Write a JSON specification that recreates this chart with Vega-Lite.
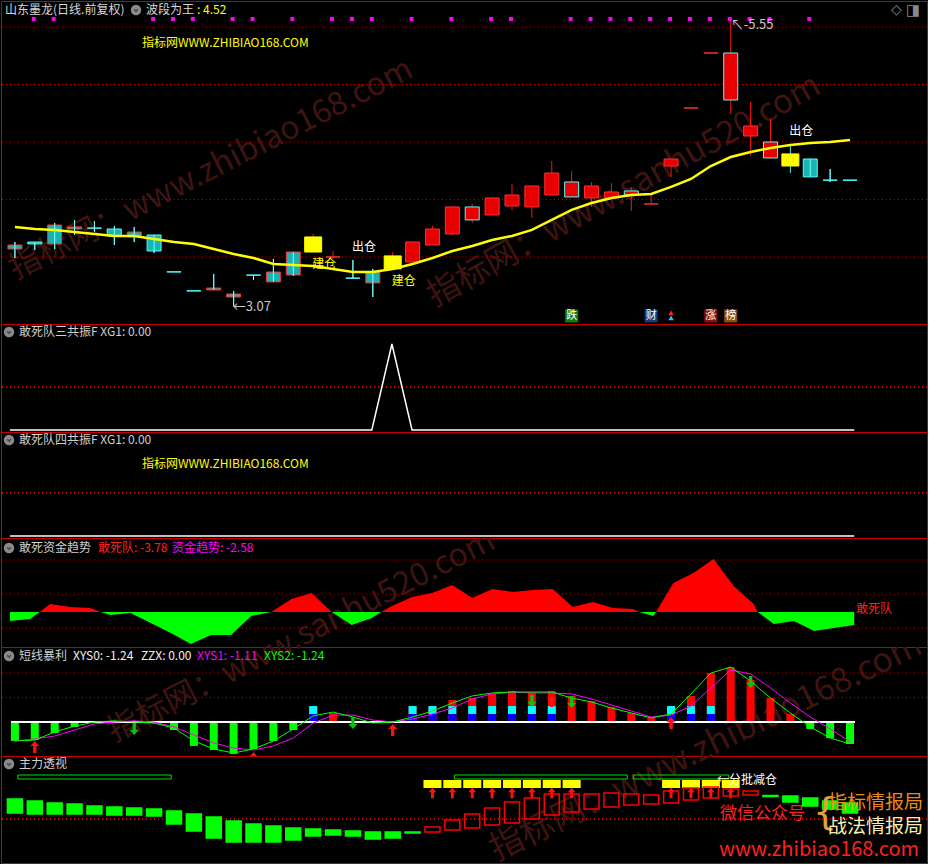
{
"$schema":"https://vega.github.io/schema/vega-lite/v6.json",
"background":"#000000",
"padding":0,
"spacing":0,
"bounds":"flush",
"config":{
 "view":{"stroke":"#c80000","strokeWidth":1},
 "concat":{"spacing":0},
 "axis":{"minExtent":0,"maxExtent":10,"labels":false,"domain":false,"grid":false,"tickColor":"#c00000","tickSize":4},
 "text":{"font":"Noto Sans CJK SC","fontSize":12,"align":"left","baseline":"middle"}
},
"datasets":{
"d":[
{"i":0,"o":3.604,"h":3.630,"l":3.491,"c":3.569,"ma":3.761,"k":1,"x3":0,"v":-1.07,"s1":-1.07,"s2":-1.07,"zo":2.0,"zc":0.6},
{"i":1,"o":3.630,"h":3.630,"l":3.561,"c":3.613,"ma":3.743,"m":1,"x3":0,"v":-1.02,"s1":-0.96,"s2":-1.02,"ar":"up","zo":1.8,"zc":0.5},
{"i":2,"o":3.778,"h":3.796,"l":3.569,"c":3.613,"ma":3.735,"k":1,"m":1,"x3":0,"v":-0.62,"s1":-0.79,"s2":-0.56,"zo":1.6,"zc":0.5},
{"i":3,"o":3.761,"h":3.822,"l":3.691,"c":3.743,"ma":3.717,"k":1,"x3":0,"v":-0.28,"s1":-0.45,"s2":-0.23,"zo":1.5,"zc":0.5},
{"i":4,"o":3.752,"h":3.813,"l":3.717,"c":3.750,"ma":3.700,"x3":0,"v":0.03,"s1":-0.11,"s2":0,"zo":1.3,"zc":0.5},
{"i":5,"o":3.743,"h":3.769,"l":3.604,"c":3.683,"ma":3.683,"x3":0,"v":0.03,"s1":0,"s2":0.06,"zo":1.2,"zc":0.4},
{"i":6,"o":3.717,"h":3.761,"l":3.630,"c":3.674,"ma":3.683,"k":1,"x3":0,"v":-0.06,"s1":0.06,"s2":0,"ar":"dn","zo":1.1,"zc":0.4},
{"i":7,"o":3.691,"h":3.691,"l":3.535,"c":3.552,"ma":3.656,"m":1,"x3":0,"v":-0.06,"s1":0,"s2":-0.06,"zo":1.0,"zc":0.3},
{"i":8,"o":3.371,"h":3.371,"l":3.369,"c":3.369,"ma":3.630,"m":1,"x3":0,"v":-0.45,"s1":-0.28,"s2":-0.34,"zo":0.8,"zc":-0.5},
{"i":9,"o":3.206,"h":3.206,"l":3.204,"c":3.204,"ma":3.613,"m":1,"x3":0,"v":-1.35,"s1":-0.73,"s2":-1.07,"zo":0.5,"zc":-1.2},
{"i":10,"o":3.230,"h":3.352,"l":3.213,"c":3.213,"ma":3.569,"k":1,"x3":0,"v":-1.58,"s1":-1.18,"s2":-1.52,"zo":0.2,"zc":-1.9},
{"i":11,"o":3.178,"h":3.204,"l":3.07,"c":3.152,"ma":3.526,"k":1,"m":1,"x3":0,"v":-1.80,"s1":-1.47,"s2":-1.75,"zo":-0.2,"zc":-2.3},
{"i":12,"o":3.343,"h":3.343,"l":3.300,"c":3.341,"ma":3.491,"m":1,"x3":0,"v":-1.52,"s1":-1.58,"s2":-1.52,"ar":"up","zo":-0.5,"zc":-2.3},
{"i":13,"o":3.369,"h":3.483,"l":3.283,"c":3.283,"ma":3.439,"k":1,"x3":0,"v":-1.07,"s1":-1.35,"s2":-1.07,"zo":-0.7,"zc":-2.3},
{"i":14,"o":3.543,"h":3.543,"l":3.335,"c":3.343,"ma":3.430,"k":1,"m":1,"x3":0,"v":-0.45,"s1":-0.90,"s2":-0.39,"zo":-0.9,"zc":-2.1},
{"i":15,"o":3.543,"h":3.700,"l":3.543,"c":3.674,"ma":3.422,"hl":1,"sig":"建仓","x3":0,"v":0.90,"cb":1,"s1":-0.06,"s2":0.34,"zo":-1.0,"zc":-1.7},
{"i":16,"o":3.500,"h":3.552,"l":3.483,"c":3.500,"ma":3.396,"m":1,"x3":0,"v":0.51,"s1":0.39,"s2":0.56,"zo":-1.1,"zc":-1.6},
{"i":17,"o":3.317,"h":3.474,"l":3.315,"c":3.315,"ma":3.369,"m":1,"sig":"出仓","x3":0,"v":-0.06,"s1":0.39,"s2":0.28,"ar":"dn","zo":-1.2,"zc":-1.7},
{"i":18,"o":3.369,"h":3.396,"l":3.152,"c":3.274,"ma":3.369,"k":1,"m":1,"x3":0,"v":0.03,"s1":0.11,"s2":-0.06,"zo":-1.3,"zc":-2.0},
{"i":19,"o":3.396,"h":3.543,"l":3.396,"c":3.509,"ma":3.396,"hl":1,"sig":"建仓","x3":1,"v":-0.03,"s1":0,"s2":0,"ar":"up","zo":-1.3,"zc":-1.9},
{"i":20,"o":3.456,"h":3.630,"l":3.456,"c":3.630,"ma":3.439,"m":1,"x3":0,"v":0.90,"cb":1,"s1":0.17,"s2":0.28,"zo":-1.3,"zc":-1.4},
{"i":21,"o":3.604,"h":3.769,"l":3.604,"c":3.743,"ma":3.491,"x3":0,"v":0.90,"cb":1,"s1":0.45,"s2":0.62,"zo":-1.3,"zc":-0.8,"buy":1},
{"i":22,"o":3.700,"h":3.935,"l":3.691,"c":3.935,"ma":3.552,"m":1,"x3":0,"v":1.24,"cb":1,"s1":0.79,"s2":1.07,"zo":-1.1,"zc":-0.1,"buy":1},
{"i":23,"o":3.822,"h":3.961,"l":3.796,"c":3.935,"ma":3.596,"k":1,"x3":0,"v":1.35,"cb":1,"s1":1.30,"s2":1.47,"zo":-0.9,"zc":0.5,"buy":1},
{"i":24,"o":3.865,"h":4.013,"l":3.865,"c":4.013,"ma":3.648,"m":1,"x3":0,"v":1.58,"cb":1,"s1":1.58,"s2":1.64,"zo":-0.6,"zc":1.1,"buy":1},
{"i":25,"o":3.943,"h":4.135,"l":3.909,"c":4.039,"ma":3.683,"m":1,"x3":0,"v":1.75,"cb":1,"s1":1.69,"s2":1.69,"zo":-0.4,"zc":1.7,"buy":1},
{"i":26,"o":3.935,"h":4.117,"l":3.839,"c":4.117,"ma":3.735,"x3":0,"v":1.64,"cb":1,"s1":1.64,"s2":1.69,"ar":"dn","zo":0.0,"zc":2.1,"buy":1},
{"i":27,"o":4.039,"h":4.335,"l":4.039,"c":4.230,"ma":3.822,"x3":0,"v":1.75,"cb":1,"s1":1.64,"s2":1.69,"ar":"up","zo":0.4,"zc":2.5,"buy":1},
{"i":28,"o":4.022,"h":4.248,"l":4.022,"c":4.152,"ma":3.909,"k":1,"m":1,"x3":0,"v":1.47,"s1":1.58,"s2":1.35,"ar":"dn","zo":0.7,"zc":2.5,"buy":1},
{"i":29,"o":4.013,"h":4.152,"l":3.935,"c":4.117,"ma":3.969,"m":1,"x3":0,"v":1.18,"s1":1.30,"s2":1.13,"zo":1.0,"zc":2.5},
{"i":30,"o":4.013,"h":4.143,"l":4.013,"c":4.065,"ma":4.013,"m":1,"x3":0,"v":0.85,"s1":0.96,"s2":0.79,"zo":1.2,"zc":2.6},
{"i":31,"o":4.039,"h":4.109,"l":3.900,"c":4.074,"ma":4.039,"k":1,"m":1,"x3":0,"v":0.51,"s1":0.62,"s2":0.51,"zo":1.4,"zc":2.5},
{"i":32,"o":3.961,"h":4.039,"l":3.961,"c":3.961,"ma":4.048,"m":1,"x3":0,"v":0.23,"s1":0.28,"s2":0.23,"zo":1.5,"zc":2.4},
{"i":33,"o":4.291,"h":4.352,"l":4.196,"c":4.352,"ma":4.109,"m":1,"x3":0,"v":0.90,"cb":1,"s1":0.39,"s2":0.45,"ar":"up","zo":1.6,"zc":2.8,"buy":1},
{"i":34,"o":4.796,"h":4.796,"l":4.796,"c":4.796,"ma":4.178,"m":1,"x3":0,"v":1.47,"cb":1,"s1":0.90,"s2":1.58,"zo":1.9,"zc":3.1,"buy":1},
{"i":35,"o":5.274,"h":5.274,"l":5.274,"c":5.274,"ma":4.291,"m":1,"x3":0,"v":2.76,"cb":1,"s1":1.92,"s2":2.76,"zo":2.1,"zc":3.2,"buy":1},
{"i":36,"o":4.865,"h":5.55,"l":4.743,"c":5.274,"ma":4.369,"k":1,"m":1,"x3":0,"v":3.10,"s1":2.93,"s2":3.10,"zo":2.3,"zc":3.0,"buy":1},
{"i":37,"o":4.552,"h":4.848,"l":4.378,"c":4.639,"ma":4.413,"m":1,"x3":0,"v":2.37,"s1":2.71,"s2":2.31,"ar":"dn","zo":2.4,"zc":2.8},
{"i":38,"o":4.361,"h":4.700,"l":4.352,"c":4.500,"ma":4.448,"k":1,"m":1,"x3":0,"v":1.35,"s1":1.92,"s2":1.35,"zo":2.35,"zc":2.25},
{"i":39,"o":4.396,"h":4.483,"l":4.230,"c":4.291,"ma":4.474,"hl":1,"sig":"出仓","x3":0,"v":0.45,"s1":1.07,"s2":0.51,"zo":2.3,"zc":1.7},
{"i":40,"o":4.352,"h":4.352,"l":4.196,"c":4.196,"ma":4.491,"m":1,"x3":0,"v":-0.39,"s1":0.28,"s2":-0.28,"zo":2.1,"zc":1.3},
{"i":41,"o":4.169,"h":4.265,"l":4.152,"c":4.167,"ma":4.500,"x3":0,"v":-0.90,"s1":-0.39,"s2":-0.90,"zo":1.8,"zc":1.0},
{"i":42,"o":4.169,"h":4.169,"l":4.167,"c":4.167,"ma":4.517,"x3":0,"v":-1.24,"s1":-1.11,"s2":-1.24,"zo":1.6,"zc":0.6}
],
"q":[{"i":0,"v":-2.61},{"i":1,"v":-2.03},{"i":1.47,"v":0},{"i":2,"v":2.32},{"i":3,"v":1.45},{"i":4,"v":1.16},{"i":4.5,"v":0},{"i":5,"v":-0.87},{"i":6,"v":-0.29},{"i":7,"v":-3.19},{"i":8,"v":-6.09},{"i":9,"v":-9.28},{"i":10,"v":-6.67},{"i":11,"v":-6.67},{"i":12,"v":-1.16},{"i":13,"v":0},{"i":14,"v":3.77},{"i":15,"v":5.51},{"i":16,"v":0},{"i":17,"v":-3.77},{"i":18,"v":-1.74},{"i":18.46,"v":0},{"i":19,"v":1.74},{"i":20,"v":4.35},{"i":21,"v":5.51},{"i":22,"v":7.83},{"i":23,"v":4.06},{"i":24,"v":6.67},{"i":25,"v":5.8},{"i":26,"v":6.38},{"i":27,"v":6.67},{"i":28,"v":1.45},{"i":29,"v":2.9},{"i":30,"v":1.16},{"i":31,"v":0.87},{"i":31.3,"v":0},{"i":32,"v":-1.16},{"i":32.14,"v":0},{"i":33,"v":8.41},{"i":34,"v":11.31},{"i":35,"v":15.37},{"i":36,"v":7.54},{"i":37,"v":2.32},{"i":37.2,"v":0},{"i":38,"v":-3.48},{"i":39,"v":-2.61},{"i":40,"v":-5.51},{"i":41,"v":-4.64},{"i":42,"v":-3.77}]
},
"vconcat":[
{
"width":926,"height":323,
"data":{"name":"d"},
"layer":[
 {"data":{"values":[{}]},"mark":{"type":"text","text":"指标网：www.zhibiao168.com","x":210,"y":168,"angle":333,"align":"center","fontSize":32,"color":"#3f1410","clip":true}},
 {"data":{"values":[{}]},"mark":{"type":"text","text":"指标网：www.sanhu520.com","x":623,"y":190,"angle":331,"align":"center","fontSize":33,"color":"#3f1410","clip":true}},
 {"data":{"values":[{"g":3.5},{"g":4},{"g":4.5},{"g":5},{"g":5.5}]},"mark":{"type":"rule","color":"#c00000","strokeDash":[1,3]},
  "encoding":{"y":{"field":"g","type":"quantitative","scale":{"domain":[2.917,5.726],"nice":false,"zero":false},"axis":{"orient":"right","values":[3.5,3.75,4,4.25,4.5,4.75,5,5.25,5.5],"labels":false,"ticks":true,"tickColor":"#c00000","tickSize":4,"domain":false,"grid":false,"title":null}}}},
 {"mark":{"type":"rule","strokeWidth":1},
  "encoding":{"x":{"field":"i","type":"quantitative","scale":{"domain":[-0.448,45.62],"nice":false,"zero":false},"axis":null},
   "y":{"field":"l","type":"quantitative","scale":{"domain":[2.917,5.726],"nice":false,"zero":false},"axis":null},"y2":{"field":"h"},
   "color":{"condition":{"test":"datum.c >= datum.o","value":"#ff1010"},"value":"#40f0f0"}}},
 {"mark":{"type":"bar","orient":"vertical","strokeWidth":1},
  "encoding":{"x":{"field":"i","type":"quantitative","scale":{"domain":[-0.448,45.62],"nice":false,"zero":false},"axis":null},
   "y":{"field":"o","type":"quantitative","scale":{"domain":[2.917,5.726],"nice":false,"zero":false},"axis":null},"y2":{"field":"c"},
   "size":{"condition":{"test":"datum.hl == 1","value":17},"value":14},
   "fill":{"condition":[{"test":"datum.hl == 1","value":"#ffff00"},{"test":"datum.c >= datum.o","value":"#e80000"}],"value":"#18b4b4"},
   "stroke":{"condition":[{"test":"datum.hl == 1","value":"#ffff00"},{"test":"datum.k == 1 && datum.c >= datum.o","value":"#50ffff"},{"test":"datum.c >= datum.o","value":"#ff3030"},{"test":"datum.k == 1","value":"#ff3030"}],"value":"#50ffff"}}},
 {"transform":[{"filter":"datum.hl != 1 && datum.c < datum.o"}],"mark":{"type":"rule","color":"#80ffff","strokeWidth":1},
  "encoding":{"x":{"field":"i","type":"quantitative","scale":{"domain":[-0.448,45.62],"nice":false,"zero":false},"axis":null},
   "y":{"field":"l","type":"quantitative","scale":{"domain":[2.917,5.726],"nice":false,"zero":false},"axis":null},"y2":{"field":"h"}}},
 {"mark":{"type":"line","color":"#ffff00","strokeWidth":2.5},
  "encoding":{"x":{"field":"i","type":"quantitative","scale":{"domain":[-0.448,45.62],"nice":false,"zero":false},"axis":null},
   "y":{"field":"ma","type":"quantitative","scale":{"domain":[2.917,5.726],"nice":false,"zero":false},"axis":null}}},
 {"transform":[{"filter":"datum.m == 1"}],"mark":{"type":"square","filled":true,"color":"#ff00ff","size":16,"opacity":1,"xOffset":-1},
  "encoding":{"x":{"field":"i","type":"quantitative","scale":{"domain":[-0.448,45.62],"nice":false,"zero":false},"axis":null},
   "y":{"datum":5.57,"type":"quantitative","scale":{"domain":[2.917,5.726],"nice":false,"zero":false},"axis":null}}},
 {"transform":[{"filter":"datum.sig == '建仓'"}],"mark":{"type":"text","color":"#ffff00","align":"center","dx":11,"dy":12,"fontSize":12},
  "encoding":{"x":{"field":"i","type":"quantitative","scale":{"domain":[-0.448,45.62],"nice":false,"zero":false},"axis":null},
   "y":{"field":"l","type":"quantitative","scale":{"domain":[2.917,5.726],"nice":false,"zero":false},"axis":null},"text":{"field":"sig"}}},
 {"transform":[{"filter":"datum.sig == '出仓'"}],"mark":{"type":"text","color":"#ffffff","align":"center","dx":11,"dy":-13,"fontSize":12},
  "encoding":{"x":{"field":"i","type":"quantitative","scale":{"domain":[-0.448,45.62],"nice":false,"zero":false},"axis":null},
   "y":{"field":"h","type":"quantitative","scale":{"domain":[2.917,5.726],"nice":false,"zero":false},"axis":null},"text":{"field":"sig"}}},
 {"transform":[{"filter":"datum.i == 11"}],"mark":{"type":"text","text":"←3.07","color":"#c8c8c8","align":"left","dx":-1,"dy":1,"fontSize":13},
  "encoding":{"x":{"field":"i","type":"quantitative","scale":{"domain":[-0.448,45.62],"nice":false,"zero":false},"axis":null},
   "y":{"field":"l","type":"quantitative","scale":{"domain":[2.917,5.726],"nice":false,"zero":false},"axis":null}}},
 {"transform":[{"filter":"datum.i == 36"}],"mark":{"type":"text","text":"↖-5.55","color":"#c8c8c8","align":"left","dx":0,"dy":4,"fontSize":13},
  "encoding":{"x":{"field":"i","type":"quantitative","scale":{"domain":[-0.448,45.62],"nice":false,"zero":false},"axis":null},
   "y":{"field":"h","type":"quantitative","scale":{"domain":[2.917,5.726],"nice":false,"zero":false},"axis":null}}},
 {"data":{"values":[{"i":28,"t":"跌"},{"i":32,"t":"财"},{"i":35,"t":"涨"},{"i":36,"t":"榜"}]},"mark":{"type":"square","filled":true,"size":169,"opacity":1},
  "encoding":{"x":{"field":"i","type":"quantitative","scale":{"domain":[-0.448,45.62],"nice":false,"zero":false},"axis":null},
   "y":{"datum":2.987,"type":"quantitative","scale":{"domain":[2.917,5.726],"nice":false,"zero":false},"axis":null},
   "color":{"field":"t","type":"nominal","scale":{"domain":["跌","财","涨","榜"],"range":["#0a800a","#163c78","#8c1010","#8c4c14"]},"legend":null}}},
 {"data":{"values":[{"i":28,"t":"跌"},{"i":32,"t":"财"},{"i":35,"t":"涨"},{"i":36,"t":"榜"}]},"mark":{"type":"text","align":"center","color":"#ffffff","fontSize":11},
  "encoding":{"x":{"field":"i","type":"quantitative","scale":{"domain":[-0.448,45.62],"nice":false,"zero":false},"axis":null},
   "y":{"datum":2.987,"type":"quantitative","scale":{"domain":[2.917,5.726],"nice":false,"zero":false},"axis":null},"text":{"field":"t"}}},
 {"data":{"values":[{"i":33}]},"mark":{"type":"point","shape":"triangle-up","filled":true,"color":"#ff2020","size":30,"opacity":1,"yOffset":-3},
  "encoding":{"x":{"field":"i","type":"quantitative","scale":{"domain":[-0.448,45.62],"nice":false,"zero":false},"axis":null},
   "y":{"datum":2.987,"type":"quantitative","scale":{"domain":[2.917,5.726],"nice":false,"zero":false},"axis":null}}},
 {"data":{"values":[{"i":33}]},"mark":{"type":"point","shape":"triangle-up","filled":true,"color":"#30c0ff","size":30,"opacity":1,"yOffset":2},
  "encoding":{"x":{"field":"i","type":"quantitative","scale":{"domain":[-0.448,45.62],"nice":false,"zero":false},"axis":null},
   "y":{"datum":2.987,"type":"quantitative","scale":{"domain":[2.917,5.726],"nice":false,"zero":false},"axis":null}}},
 {"data":{"values":[{}]},"mark":{"type":"text","text":"指标网WWW.ZHIBIAO168.COM","x":141,"y":42,"color":"#ffff00"}},
 {"data":{"values":[{}]},"mark":{"type":"text","text":"山东墨龙(日线.前复权)","x":4,"y":9,"color":"#d8d8d8"}},
 {"data":{"values":[{}]},"mark":{"type":"point","shape":"circle","filled":true,"color":"#8a8a8a","size":110,"opacity":1,"x":135,"y":9}},
 {"data":{"values":[{}]},"mark":{"type":"point","shape":"M-0.6,-0.25L0,0.35L0.6,-0.25","filled":false,"stroke":"#303030","strokeWidth":1.5,"size":40,"x":135,"y":9}},
 {"data":{"values":[{}]},"mark":{"type":"text","text":"波段为王","x":145,"y":9,"color":"#d8d8d8"}},
 {"data":{"values":[{}]},"mark":{"type":"text","text":": 4.52","x":196,"y":9,"color":"#ffff00"}},
 {"data":{"values":[{}]},"mark":{"type":"text","text":"◇","x":890,"y":9,"color":"#8a8a8a","font":"DejaVu Sans","fontSize":14}},
 {"data":{"values":[{}]},"mark":{"type":"text","text":"◨","x":905,"y":9,"color":"#8a8a8a","font":"DejaVu Sans","fontSize":15}}
]
},
{
"width":926,"height":108,
"data":{"name":"d"},
"layer":[
 {"mark":{"type":"rule","color":"#c00000","strokeDash":[1,3]},
  "encoding":{"y":{"datum":0.5,"type":"quantitative","scale":{"domain":[-0.023,1.233],"nice":false,"zero":false},"axis":{"orient":"right","values":[0,0.25,0.5,0.75,1],"labels":false,"ticks":true,"tickColor":"#c00000","tickSize":4,"domain":false,"grid":false,"title":null}}}},
 {"mark":{"type":"line","color":"#ffffff","strokeWidth":1.5},
  "encoding":{"x":{"field":"i","type":"quantitative","scale":{"domain":[-0.448,45.62],"nice":false,"zero":false},"axis":null},
   "y":{"field":"x3","type":"quantitative","scale":{"domain":[-0.023,1.233],"nice":false,"zero":false},"axis":null}}},
 {"data":{"values":[{}]},"mark":{"type":"point","shape":"circle","filled":true,"color":"#8a8a8a","size":110,"opacity":1,"x":8,"y":8}},
 {"data":{"values":[{}]},"mark":{"type":"point","shape":"M-0.6,-0.25L0,0.35L0.6,-0.25","filled":false,"stroke":"#303030","strokeWidth":1.5,"size":40,"x":8,"y":8}},
 {"data":{"values":[{}]},"mark":{"type":"text","text":"敢死队三共振F XG1: 0.00","x":18,"y":8,"color":"#d0d0d0"}}
]
},
{
"width":926,"height":106,
"data":{"name":"d"},
"layer":[
 {"mark":{"type":"rule","color":"#c00000","strokeDash":[1,3]},
  "encoding":{"y":{"datum":0.5,"type":"quantitative","scale":{"domain":[-0.023,1.21],"nice":false,"zero":false},"axis":{"orient":"right","values":[0.48,0.72,0.95,1.08],"labels":false,"ticks":true,"tickColor":"#c00000","tickSize":4,"domain":false,"grid":false,"title":null}}}},
 {"mark":{"type":"line","color":"#ffffff","strokeWidth":1.5},
  "encoding":{"x":{"field":"i","type":"quantitative","scale":{"domain":[-0.448,45.62],"nice":false,"zero":false},"axis":null},
   "y":{"datum":0,"type":"quantitative","scale":{"domain":[-0.023,1.21],"nice":false,"zero":false},"axis":null}}},
 {"data":{"values":[{}]},"mark":{"type":"point","shape":"circle","filled":true,"color":"#8a8a8a","size":110,"opacity":1,"x":8,"y":8}},
 {"data":{"values":[{}]},"mark":{"type":"point","shape":"M-0.6,-0.25L0,0.35L0.6,-0.25","filled":false,"stroke":"#303030","strokeWidth":1.5,"size":40,"x":8,"y":8}},
 {"data":{"values":[{}]},"mark":{"type":"text","text":"敢死队四共振F XG1: 0.00","x":18,"y":8,"color":"#d0d0d0"}},
 {"data":{"values":[{}]},"mark":{"type":"text","text":"指标网WWW.ZHIBIAO168.COM","x":141,"y":32,"color":"#ffff00"}}
]
},
{
"width":926,"height":109,
"data":{"name":"q"},
"layer":[
 {"data":{"values":[{}]},"mark":{"type":"text","text":"指标网：www.sanhu520.com","x":300,"y":98,"angle":333,"align":"center","fontSize":32,"color":"#3f1410","clip":true}},
 {"data":{"values":[{"g":-4.64},{"g":5.22},{"g":15.08}]},"mark":{"type":"rule","color":"#c00000","strokeDash":[1,3]},
  "encoding":{"y":{"field":"g","type":"quantitative","scale":{"domain":[-10.15,21.46],"nice":false,"zero":false},"axis":{"orient":"right","values":[-4.64,0,5.22,10.15,15.08],"labels":false,"ticks":true,"tickColor":"#c00000","tickSize":4,"domain":false,"grid":false,"title":null}}}},
 {"transform":[{"filter":"datum.v >= 0"}],"mark":{"type":"area","color":"#ff0000","opacity":1},
  "encoding":{"x":{"field":"i","type":"quantitative","scale":{"domain":[-0.448,45.62],"nice":false,"zero":false},"axis":null},
   "y":{"field":"v","type":"quantitative","scale":{"domain":[-10.15,21.46],"nice":false,"zero":false},"axis":null},"y2":{"datum":0}}},
 {"transform":[{"filter":"datum.v <= 0"}],"mark":{"type":"area","color":"#00ff00","opacity":1},
  "encoding":{"x":{"field":"i","type":"quantitative","scale":{"domain":[-0.448,45.62],"nice":false,"zero":false},"axis":null},
   "y":{"field":"v","type":"quantitative","scale":{"domain":[-10.15,21.46],"nice":false,"zero":false},"axis":null},"y2":{"datum":0}}},
 {"data":{"values":[{}]},"mark":{"type":"point","shape":"circle","filled":true,"color":"#8a8a8a","size":110,"opacity":1,"x":8,"y":10}},
 {"data":{"values":[{}]},"mark":{"type":"point","shape":"M-0.6,-0.25L0,0.35L0.6,-0.25","filled":false,"stroke":"#303030","strokeWidth":1.5,"size":40,"x":8,"y":10}},
 {"data":{"values":[{}]},"mark":{"type":"text","text":"敢死资金趋势","x":18,"y":10,"color":"#d0d0d0"}},
 {"data":{"values":[{}]},"mark":{"type":"text","text":"敢死队: -3.78","x":97,"y":10,"color":"#ff2020"}},
 {"data":{"values":[{}]},"mark":{"type":"text","text":"资金趋势: -2.58","x":171,"y":10,"color":"#ff00ff"}},
 {"data":{"values":[{}]},"mark":{"type":"text","text":"敢死队","x":855,"y":71,"color":"#ff2020"}}
]
},
{
"width":926,"height":109,
"data":{"name":"d"},
"layer":[
 {"data":{"values":[{}]},"mark":{"type":"text","text":"指标网：www.sanhu520.com","x":300,"y":-11,"angle":333,"align":"center","fontSize":32,"color":"#3f1410","clip":true}},
 {"data":{"values":[{}]},"mark":{"type":"text","text":"指标网：www.zhibiao168.com","x":705,"y":101,"angle":334,"align":"center","fontSize":34,"color":"#3f1410","clip":true}},
 {"data":{"values":[{"g":1.38},{"g":2.76}]},"mark":{"type":"rule","color":"#c00000","strokeDash":[1,3]},
  "encoding":{"y":{"field":"g","type":"quantitative","scale":{"domain":[-1.918,4.23],"nice":false,"zero":false},"axis":{"orient":"right","values":[0,0.69,1.38,2.07,2.76],"labels":false,"ticks":true,"tickColor":"#c00000","tickSize":4,"domain":false,"grid":false,"title":null}}}},
 {"mark":{"type":"bar","orient":"vertical","size":8},
  "encoding":{"x":{"field":"i","type":"quantitative","scale":{"domain":[-0.448,45.62],"nice":false,"zero":false},"axis":null},
   "y":{"field":"v","type":"quantitative","scale":{"domain":[-1.918,4.23],"nice":false,"zero":false},"axis":null},"y2":{"datum":0},
   "color":{"condition":{"test":"datum.v >= 0","value":"#ff0000"},"value":"#00ff00"}}},
 {"transform":[{"filter":"datum.cb == 1"}],"mark":{"type":"bar","orient":"vertical","size":8,"color":"#00ffff"},
  "encoding":{"x":{"field":"i","type":"quantitative","scale":{"domain":[-0.448,45.62],"nice":false,"zero":false},"axis":null},
   "y":{"datum":0.9,"type":"quantitative","scale":{"domain":[-1.918,4.23],"nice":false,"zero":false},"axis":null},"y2":{"datum":0.45}}},
 {"transform":[{"filter":"datum.cb == 1"}],"mark":{"type":"bar","orient":"vertical","size":8,"color":"#0000ff"},
  "encoding":{"x":{"field":"i","type":"quantitative","scale":{"domain":[-0.448,45.62],"nice":false,"zero":false},"axis":null},
   "y":{"datum":0.45,"type":"quantitative","scale":{"domain":[-1.918,4.23],"nice":false,"zero":false},"axis":null},"y2":{"datum":0}}},
 {"mark":{"type":"rule","color":"#ffffff","strokeWidth":1.5},
  "encoding":{"x":{"datum":-0.15,"type":"quantitative","scale":{"domain":[-0.448,45.62],"nice":false,"zero":false},"axis":null},"x2":{"datum":42.25},
   "y":{"datum":0,"type":"quantitative","scale":{"domain":[-1.918,4.23],"nice":false,"zero":false},"axis":null}}},
 {"mark":{"type":"line","color":"#ff00ff","strokeWidth":1},
  "encoding":{"x":{"field":"i","type":"quantitative","scale":{"domain":[-0.448,45.62],"nice":false,"zero":false},"axis":null},
   "y":{"field":"s1","type":"quantitative","scale":{"domain":[-1.918,4.23],"nice":false,"zero":false},"axis":null}}},
 {"mark":{"type":"line","color":"#00ff00","strokeWidth":1},
  "encoding":{"x":{"field":"i","type":"quantitative","scale":{"domain":[-0.448,45.62],"nice":false,"zero":false},"axis":null},
   "y":{"field":"s2","type":"quantitative","scale":{"domain":[-1.918,4.23],"nice":false,"zero":false},"axis":null}}},
 {"transform":[{"filter":"datum.ar == 'up'"}],"mark":{"type":"point","shape":"M0,-1L0.75,-0.15L0.28,-0.15L0.28,1L-0.28,1L-0.28,-0.15L-0.75,-0.15Z","filled":true,"color":"#ff1010","size":144,"opacity":1,"yOffset":8,"clip":true},
  "encoding":{"x":{"field":"i","type":"quantitative","scale":{"domain":[-0.448,45.62],"nice":false,"zero":false},"axis":null},
   "y":{"field":"s1","type":"quantitative","scale":{"domain":[-1.918,4.23],"nice":false,"zero":false},"axis":null}}},
 {"transform":[{"filter":"datum.ar == 'dn'"}],"mark":{"type":"point","shape":"M0,1L0.75,0.15L0.28,0.15L0.28,-1L-0.28,-1L-0.28,0.15L-0.75,0.15Z","filled":true,"color":"#10c010","size":144,"opacity":1,"yOffset":8,"clip":true},
  "encoding":{"x":{"field":"i","type":"quantitative","scale":{"domain":[-0.448,45.62],"nice":false,"zero":false},"axis":null},
   "y":{"field":"s1","type":"quantitative","scale":{"domain":[-1.918,4.23],"nice":false,"zero":false},"axis":null}}},
 {"data":{"values":[{}]},"mark":{"type":"point","shape":"circle","filled":true,"color":"#8a8a8a","size":110,"opacity":1,"x":8,"y":9}},
 {"data":{"values":[{}]},"mark":{"type":"point","shape":"M-0.6,-0.25L0,0.35L0.6,-0.25","filled":false,"stroke":"#303030","strokeWidth":1.5,"size":40,"x":8,"y":9}},
 {"data":{"values":[{}]},"mark":{"type":"text","text":"短线暴利","x":18,"y":9,"color":"#d0d0d0"}},
 {"data":{"values":[{}]},"mark":{"type":"text","text":"XYS0: -1.24","x":72,"y":9,"color":"#f0f0f0"}},
 {"data":{"values":[{}]},"mark":{"type":"text","text":"ZZX: 0.00","x":140,"y":9,"color":"#f0f0f0"}},
 {"data":{"values":[{}]},"mark":{"type":"text","text":"XYS1: -1.11","x":196,"y":9,"color":"#ff00ff"}},
 {"data":{"values":[{}]},"mark":{"type":"text","text":"XYS2: -1.24","x":263,"y":9,"color":"#00ff00"}}
]
},
{
"width":926,"height":107,
"data":{"name":"d"},
"layer":[
 {"data":{"values":[{}]},"mark":{"type":"text","text":"指标网：www.zhibiao168.com","x":705,"y":-8,"angle":334,"align":"center","fontSize":34,"color":"#3f1410","clip":true}},
 {"mark":{"type":"rule","color":"#c00000","strokeDash":[1,3]},
  "encoding":{"y":{"datum":0,"type":"quantitative","scale":{"domain":[-4.4,6.3],"nice":false,"zero":false},"axis":{"orient":"right","values":[-2.5,-0.2,2.1,4.4],"labels":false,"ticks":true,"tickColor":"#c00000","tickSize":4,"domain":false,"grid":false,"title":null}}}},
 {"data":{"values":[{"s":0.15,"e":7.86},{"s":22.1,"e":30.8},{"s":31.1,"e":35.9}]},"mark":{"type":"rect","fill":"transparent","stroke":"#00e000","strokeWidth":1},
  "encoding":{"x":{"field":"s","type":"quantitative","scale":{"domain":[-0.448,45.62],"nice":false,"zero":false},"axis":null},"x2":{"field":"e"},
   "y":{"datum":4.4,"type":"quantitative","scale":{"domain":[-4.4,6.3],"nice":false,"zero":false},"axis":null},"y2":{"datum":4.0}}},
 {"transform":[{"filter":"datum.buy == 1"}],"mark":{"type":"bar","orient":"vertical","size":18,"color":"#ffff00"},
  "encoding":{"x":{"field":"i","type":"quantitative","scale":{"domain":[-0.448,45.62],"nice":false,"zero":false},"axis":null},
   "y":{"datum":3.9,"type":"quantitative","scale":{"domain":[-4.4,6.3],"nice":false,"zero":false},"axis":null},"y2":{"datum":3.1}}},
 {"transform":[{"filter":"datum.buy == 1"}],"mark":{"type":"point","shape":"M0,-1L0.75,-0.15L0.28,-0.15L0.28,1L-0.28,1L-0.28,-0.15L-0.75,-0.15Z","filled":true,"color":"#ff1010","size":110,"opacity":1},
  "encoding":{"x":{"field":"i","type":"quantitative","scale":{"domain":[-0.448,45.62],"nice":false,"zero":false},"axis":null},
   "y":{"datum":2.6,"type":"quantitative","scale":{"domain":[-4.4,6.3],"nice":false,"zero":false},"axis":null}}},
 {"mark":{"type":"bar","orient":"vertical","size":15,"strokeWidth":1.5},
  "encoding":{"x":{"field":"i","type":"quantitative","scale":{"domain":[-0.448,45.62],"nice":false,"zero":false},"axis":{"orient":"bottom","values":[13,18,23,28,33],"labels":false,"ticks":true,"tickColor":"#909090","tickSize":5,"domain":false,"grid":false,"title":null}},
   "y":{"field":"zo","type":"quantitative","scale":{"domain":[-4.4,6.3],"nice":false,"zero":false},"axis":null},"y2":{"field":"zc"},
   "fill":{"condition":{"test":"datum.zc > datum.zo","value":"transparent"},"value":"#00ff00"},
   "stroke":{"condition":{"test":"datum.zc > datum.zo","value":"#ff0000"},"value":"#00ff00"}}},
 {"data":{"values":[{}]},"mark":{"type":"point","shape":"circle","filled":true,"color":"#8a8a8a","size":110,"opacity":1,"x":8,"y":8}},
 {"data":{"values":[{}]},"mark":{"type":"point","shape":"M-0.6,-0.25L0,0.35L0.6,-0.25","filled":false,"stroke":"#303030","strokeWidth":1.5,"size":40,"x":8,"y":8}},
 {"data":{"values":[{}]},"mark":{"type":"text","text":"主力透视","x":18,"y":8,"color":"#d0d0d0"}},
 {"data":{"values":[{}]},"mark":{"type":"text","text":"←分批减仓","x":716,"y":24,"color":"#ffffff"}},
 {"data":{"values":[{}]},"mark":{"type":"text","text":"微信公众号","x":719,"y":58,"color":"#ff2020","fontSize":17}},
 {"data":{"values":[{}]},"mark":{"type":"text","text":"{","x":812,"y":57,"color":"#e0a040","fontSize":38,"font":"DejaVu Sans"}},
 {"data":{"values":[{}]},"mark":{"type":"text","text":"指标情报局","x":827,"y":47,"color":"#f08a10","fontSize":19}},
 {"data":{"values":[{}]},"mark":{"type":"text","text":"战法情报局","x":827,"y":71,"color":"#f8f0b0","fontSize":19}},
 {"data":{"values":[{}]},"mark":{"type":"text","text":"www.zhibiao168.com","x":718,"y":94,"color":"#ff2020","fontSize":20}}
]
}
]
}
